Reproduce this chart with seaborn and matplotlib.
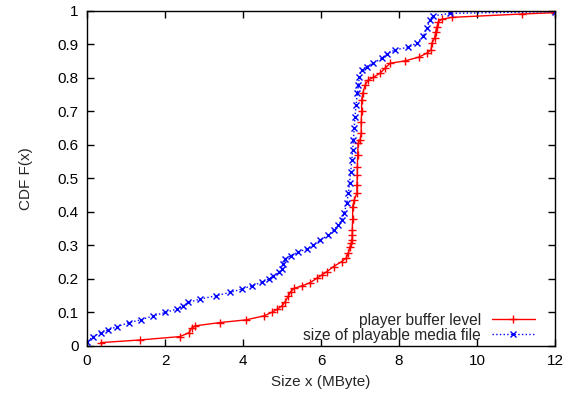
import matplotlib
matplotlib.use('Agg')
import matplotlib.pyplot as plt
import seaborn as sns
import pandas as pd

# player buffer level (MByte) vs CDF
buffer_x = [0.35, 1.36, 2.38, 2.62, 2.68, 2.77, 3.41, 4.08, 4.54, 4.73, 4.88, 5.00,
            5.08, 5.16, 5.22, 5.31, 5.50, 5.72, 5.89, 6.02, 6.15, 6.32, 6.53, 6.64,
            6.70, 6.74, 6.77, 6.79, 6.80, 6.80, 6.81, 6.81, 6.85, 6.92, 6.92, 6.93,
            6.93, 6.94, 6.95, 7.00, 7.03, 7.03, 7.04, 7.04, 7.07, 7.13, 7.21, 7.34,
            7.51, 7.64, 7.77, 8.15, 8.50, 8.71, 8.82, 8.84, 8.91, 8.94, 8.97, 9.01,
            9.09, 9.35, 11.15, 12.0]
buffer_y = [0.010, 0.018, 0.028, 0.040, 0.053, 0.060, 0.070, 0.078, 0.090, 0.100, 0.110, 0.120,
            0.132, 0.149, 0.162, 0.172, 0.179, 0.189, 0.202, 0.212, 0.222, 0.237, 0.252, 0.262,
            0.277, 0.296, 0.306, 0.316, 0.330, 0.346, 0.380, 0.416, 0.436, 0.456, 0.480, 0.510,
            0.535, 0.570, 0.605, 0.615, 0.635, 0.670, 0.700, 0.734, 0.754, 0.779, 0.794, 0.802,
            0.814, 0.829, 0.844, 0.851, 0.862, 0.874, 0.884, 0.904, 0.918, 0.938, 0.953, 0.968,
            0.975, 0.981, 0.991, 0.995]

# size of playable media file (MByte) vs CDF
media_x = [0.01, 0.16, 0.35, 0.55, 0.78, 1.08, 1.38, 1.70, 2.00, 2.30, 2.47, 2.60,
           2.90, 3.31, 3.67, 3.97, 4.23, 4.48, 4.67, 4.78, 4.93, 4.99, 5.03, 5.08,
           5.22, 5.42, 5.63, 5.80, 5.97, 6.19, 6.32, 6.44, 6.53, 6.59, 6.66, 6.70,
           6.73, 6.76, 6.79, 6.81, 6.83, 6.85, 6.87, 6.90, 6.93, 6.96, 6.98, 7.04,
           7.17, 7.34, 7.56, 7.68, 7.90, 8.24, 8.45, 8.62, 8.71, 8.79, 8.86, 9.31, 12.0]
media_y = [0.013, 0.028, 0.040, 0.048, 0.058, 0.070, 0.078, 0.090, 0.100, 0.110, 0.120, 0.130,
           0.140, 0.150, 0.160, 0.170, 0.180, 0.190, 0.200, 0.210, 0.220, 0.230, 0.245, 0.260,
           0.270, 0.280, 0.290, 0.300, 0.316, 0.330, 0.346, 0.360, 0.376, 0.396, 0.426, 0.456,
           0.486, 0.520, 0.555, 0.585, 0.615, 0.650, 0.684, 0.720, 0.754, 0.780, 0.804, 0.824,
           0.834, 0.844, 0.859, 0.872, 0.884, 0.892, 0.904, 0.924, 0.948, 0.973, 0.985, 0.993, 0.998]

x_ticks = [0, 2, 4, 6, 8, 10, 12]
y_ticks = [0, 0.1, 0.2, 0.3, 0.4, 0.5, 0.6, 0.7, 0.8, 0.9, 1]
y_tick_labels = ['0', '0.1', '0.2', '0.3', '0.4', '0.5', '0.6', '0.7', '0.8', '0.9', '1']

sns.set_theme(style="ticks")
plt.rcParams['font.family'] = ['Liberation Sans', 'DejaVu Sans']

buf = pd.DataFrame({'x': buffer_x, 'y': buffer_y})
med = pd.DataFrame({'x': media_x, 'y': media_y})

fig = plt.figure(figsize=(5.77, 3.98), dpi=100)
ax = fig.add_axes([0.1508, 0.1307, 0.8112, 0.8417])

sns.lineplot(data=buf, x='x', y='y', sort=False, estimator=None, ax=ax,
             color='#ff0000', linewidth=1.0, marker='+', markersize=6,
             markeredgewidth=1.0, markeredgecolor='#ff0000',
             label='player buffer level')
sns.lineplot(data=med, x='x', y='y', sort=False, estimator=None, ax=ax,
             color='#0000ff', linewidth=1.0, linestyle=':', marker='x', markersize=5,
             markeredgewidth=1.0, markeredgecolor='#0000ff',
             label='size of playable media file')

ax.set_xlim(0, 12)
ax.set_ylim(0, 1)
ax.set_xticks(x_ticks)
ax.set_yticks(y_ticks)
ax.set_yticklabels(y_tick_labels)
ax.tick_params(direction='in', top=True, right=True, length=5, width=1,
               labelsize=11, colors='black', pad=6)
for s in ax.spines.values():
    s.set_linewidth(1.0)
    s.set_color('black')

ax.set_xlabel('Size x (MByte)', fontsize=11, labelpad=5)
ax.set_ylabel('CDF F(x)', fontsize=11, labelpad=18)

ax.legend(loc='lower right', bbox_to_anchor=(0.963, 0.0), frameon=False,
          markerfirst=False, fontsize=11.2, handlelength=2.75, borderpad=0.2,
          borderaxespad=0.0, labelspacing=0.0, handletextpad=0.7)

fig.savefig('out.png', dpi=100)
